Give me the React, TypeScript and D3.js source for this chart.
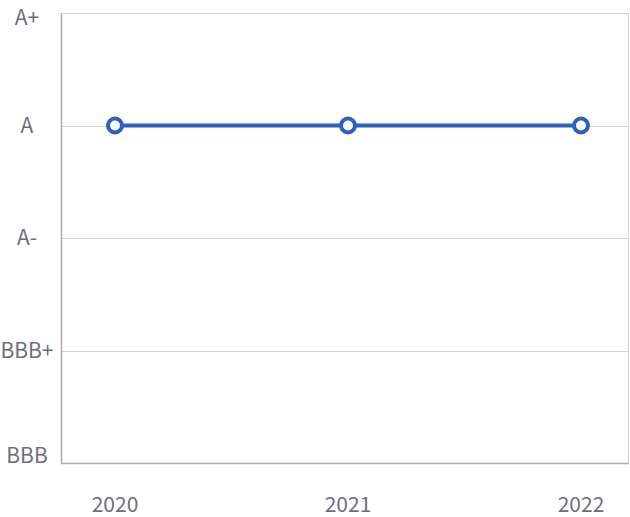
import React, { useRef, useEffect } from 'react'
import * as d3 from 'd3'

const years = ['2020', '2021', '2022']
const grades = ['BBB', 'BBB+', 'A-', 'A', 'A+']
const ratings = ['A', 'A', 'A']

const width = 630
const height = 517

export default function App() {
    const svgRef = useRef<SVGSVGElement>(null)

    useEffect(() => {
        const svg = d3.select(svgRef.current)
        svg.selectAll('*').remove()

        const margin = { top: 13, right: 1, bottom: 54, left: 61 }
        const innerW = width - margin.left - margin.right
        const innerH = height - margin.top - margin.bottom
        const font = '"Noto Sans CJK KR", "Noto Sans", sans-serif'
        const textColor = '#6e6e7a'

        const g = svg.append('g').attr('transform', `translate(${margin.left},${margin.top})`)

        // y: rating grades
        const y = d3.scalePoint<string>().domain(grades).range([innerH, 0])
        // x: years
        const x = d3.scalePoint<string>().domain(years).range([54, innerW - 48])

        // grid lines
        g.selectAll('.grid')
            .data(grades)
            .enter()
            .append('line')
            .attr('x1', 0)
            .attr('x2', innerW)
            .attr('y1', (d) => Math.round(y(d)!) + 0.5)
            .attr('y2', (d) => Math.round(y(d)!) + 0.5)
            .attr('stroke', '#d2d2d2')
            .attr('stroke-width', 1)

        // right border
        g.append('line')
            .attr('x1', innerW - 0.5)
            .attr('x2', innerW - 0.5)
            .attr('y1', 0)
            .attr('y2', innerH)
            .attr('stroke', '#d2d2d2')

        // axes lines
        g.append('line')
            .attr('x1', 0.5)
            .attr('x2', 0.5)
            .attr('y1', 0)
            .attr('y2', innerH + 1)
            .attr('stroke', '#ababab')
            .attr('stroke-width', 1.5)
        g.append('line')
            .attr('x1', 0)
            .attr('x2', innerW)
            .attr('y1', innerH + 0.5)
            .attr('y2', innerH + 0.5)
            .attr('stroke', '#ababab')
            .attr('stroke-width', 1.5)

        // y labels (kept inside the picture at both ends)
        svg.selectAll('.ylab')
            .data(grades)
            .enter()
            .append('text')
            .attr('x', 27)
            .attr('y', (d) => Math.max(18, Math.min(margin.top + y(d)!, height - 61)))
            .attr('dy', '0.35em')
            .attr('text-anchor', 'middle')
            .attr('font-family', font)
            .attr('font-size', 21)
            .attr('fill', textColor)
            .text((d) => d)

        // x labels
        svg.selectAll('.xlab')
            .data(years)
            .enter()
            .append('text')
            .attr('x', (d) => margin.left + x(d)!)
            .attr('y', 512)
            .attr('text-anchor', 'middle')
            .attr('font-family', font)
            .attr('font-size', 21)
            .attr('fill', textColor)
            .text((d) => d)

        const pts = years.map((yr, i) => ({ yr, r: ratings[i] }))
        const line = d3
            .line<{ yr: string; r: string }>()
            .x((d) => x(d.yr)!)
            .y((d) => y(d.r)!)

        g.append('path')
            .datum(pts)
            .attr('d', line)
            .attr('fill', 'none')
            .attr('stroke', '#2c5fbe')
            .attr('stroke-width', 4)

        g.selectAll('.pt')
            .data(pts)
            .enter()
            .append('circle')
            .attr('cx', (d) => x(d.yr)!)
            .attr('cy', (d) => y(d.r)!)
            .attr('r', 7)
            .attr('fill', '#fff')
            .attr('stroke', '#2c5fbe')
            .attr('stroke-width', 4)
    }, [])

    return (
        <svg
            ref={svgRef}
            width={width}
            height={height}
            style={{ position: 'absolute', left: 0, top: 0, background: '#fff' }}
        />
    )
}
